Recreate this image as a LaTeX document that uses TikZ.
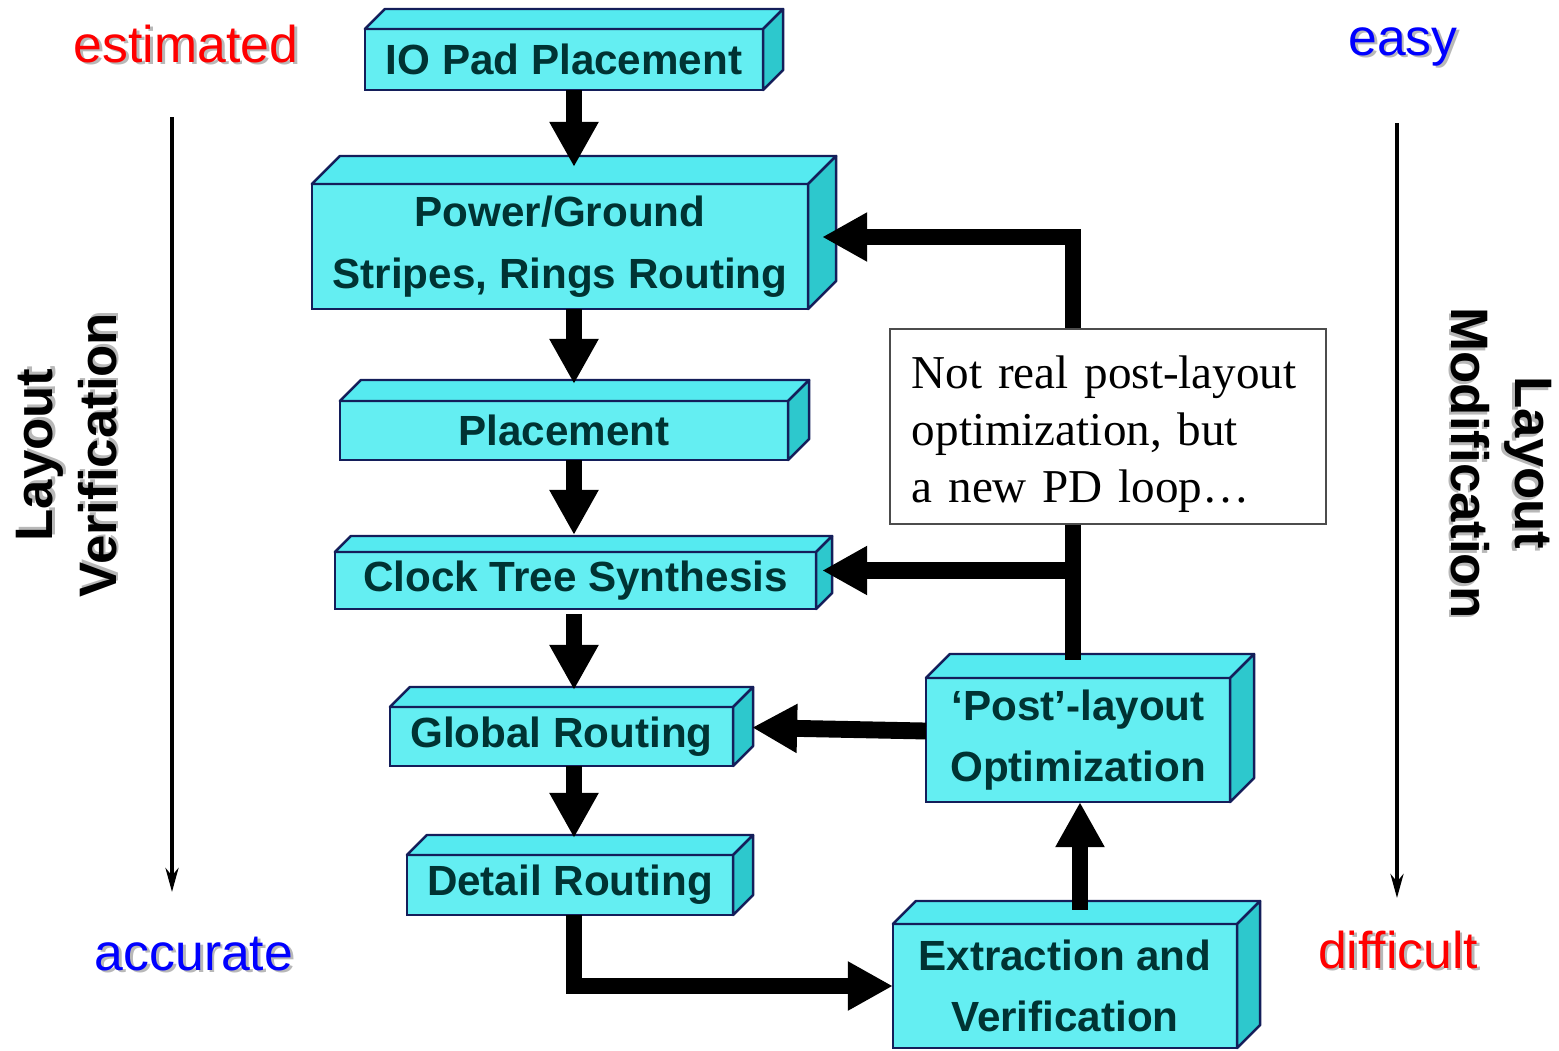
\documentclass[tikz,border=0pt]{standalone}
\usepackage{fontspec}
\setmainfont{Liberation Sans}
\newfontfamily\notefont{Liberation Serif}
\usepackage{tikz}
\usetikzlibrary{calc,arrows.meta}
\definecolor{stagefront}{RGB}{100,238,242}
\definecolor{stagetopc}{RGB}{85,234,240}
\definecolor{stagesidec}{RGB}{45,200,205}
\definecolor{stageline}{RGB}{20,30,90}
\definecolor{stagetext}{RGB}{0,51,51}
% text with a soft grey drop shadow
\newcommand{\shd}[2]{\leavevmode\rlap{\hspace{0.8pt}\raisebox{-0.8pt}{\color{black!28}#2}}{\color{#1}#2}}
% stage name / depth of the 3D slab
\def\stages{io/20, pg/28, pl/21, cts/16, gr/20, dr/20, post/24, ext/23}
\tikzset{
  stage/.style     = {draw=stageline, line width=0.7pt, fill=stagefront, outer sep=0pt,
                      inner sep=0pt, align=center, text=stagetext,
                      font=\fontsize{12}{17.5}\selectfont\bfseries},
  stagetop/.style  = {draw=stageline, line width=0.7pt, fill=stagetopc, line join=round},
  stageside/.style = {draw=stageline, line width=0.7pt, fill=stagesidec, line join=round},
  flow/.style      = {-{Triangle[length=4.5mm,width=4.6mm]}, line width=4.8pt},
  down/.style      = {flow, shorten >=0.17cm},
  trend/.style     = {-{Stealth[length=2.4mm,width=1.3mm]}, line width=1.1pt},
  endlabel/.style  = {font=\fontsize{14.7}{17}\selectfont, anchor=base},
  sidelabel/.style = {font=\fontsize{15}{18}\selectfont\bfseries, align=center},
  note/.style      = {draw=black!70, line width=0.6pt, fill=white, align=left,
                      text width=3.92cm, minimum height=1.93cm, inner xsep=0.22cm,
                      font=\notefont\fontsize{13.4}{16.2}\selectfont}
}
\begin{document}
\begin{tikzpicture}[x=0.01cm,y=-0.01cm]
  \useasboundingbox (0,0) rectangle (1559,1050);
  % flow stages (front faces)
  \node[stage, minimum width=3.98cm, minimum height=0.61cm] (io)   at (564,59.5)   {IO Pad Placement};
  \node[stage, minimum width=4.96cm, minimum height=1.25cm] (pg)   at (560,246.5)  {Power/Ground\\Stripes, Rings Routing};
  \node[stage, minimum width=4.48cm, minimum height=0.59cm] (pl)   at (564,430.5)  {Placement};
  \node[stage, minimum width=4.81cm, minimum height=0.57cm] (cts)  at (575.5,580.5) {Clock Tree Synthesis};
  \node[stage, minimum width=3.43cm, minimum height=0.59cm] (gr)   at (561.5,736.5) {Global Routing};
  \node[stage, minimum width=3.26cm, minimum height=0.60cm] (dr)   at (570,885)    {Detail Routing};
  \node[stage, minimum width=3.04cm, minimum height=1.24cm] (post) at (1078,740)   {‘Post’-layout\\Optimization};
  \node[stage, minimum width=3.44cm, minimum height=1.24cm] (ext)  at (1065,986)   {Extraction and\\Verification};
  % top and side faces of each slab
  \foreach \n/\d in \stages {
    \draw[stagetop] (\n.north west) -- ([shift={(\d,-\d)}]\n.north west)
      -- ([shift={(\d,-\d)}]\n.north east) -- (\n.north east) -- cycle;
    \draw[stageside] (\n.north east) -- ([shift={(\d,-\d)}]\n.north east)
      -- ([shift={(\d,-\d)}]\n.south east) -- (\n.south east) -- cycle;
  }
  % main flow
  \coordinate (spine) at (574,0);
  \draw[down] (io.south -| spine) -- (pg.north -| spine);
  \draw[down] (pg.south -| spine) -- (pl.north -| spine);
  \draw[down] (pl.south -| spine) -- (cts.north -| spine);
  \draw[down, shorten <=0.05cm] (cts.south -| spine) -- (gr.north -| spine);
  \draw[down] (gr.south -| spine) -- (dr.north -| spine);
  \draw[flow] (dr.south -| spine) |- (ext.west);
  % optimisation loop
  \coordinate (up) at (1080,0);
  \draw[flow, shorten <=0.14cm] (ext.north -| up) -- (post.south -| up);
  \draw[flow] ([yshift=0.09cm]post.west) -- ([xshift=0.19cm,yshift=0.09cm]gr.east);
  \coordinate (fb) at (1073,0);
  \draw[flow, shorten <=0.18cm] (post.north -| fb) |- ([xshift=0.14cm,yshift=0.095cm]pg.east);
  \coordinate (cin) at ([xshift=0.06cm,yshift=0.1cm]cts.east);
  \draw[flow] (cin -| fb) -- (cin);
  \node[note] (pdnote) at (1108,426.5) {\rule{0pt}{0.48cm}Not real post-layout\\optimization, but\\a new PD loop…};
  % side trends
  \coordinate (ltop) at (172,117);
  \coordinate (lbot) at (172,892);
  \coordinate (rtop) at (1397,123);
  \coordinate (rbot) at (1397,898);
  \draw[trend] (ltop) -- (lbot);
  \draw[trend] (rtop) -- (rbot);
  \node[endlabel] (est)  at (186,62)   {\shd{red}{estimated}};
  \node[endlabel] (acc)  at (194,970)  {\shd{blue}{accurate}};
  \node[endlabel] (easy) at (1403,55)  {\shd{blue}{easy}};
  \node[endlabel] (diff) at (1398,968) {\shd{red}{difficult}};
  \node[sidelabel, rotate=90]  (lver) at (68,455)   {\shd{black}{Layout}\\\shd{black}{Verification}};
  \node[sidelabel, rotate=-90] (lmod) at (1500,463) {\shd{black}{Layout}\\\shd{black}{Modification}};
\end{tikzpicture}
\end{document}
